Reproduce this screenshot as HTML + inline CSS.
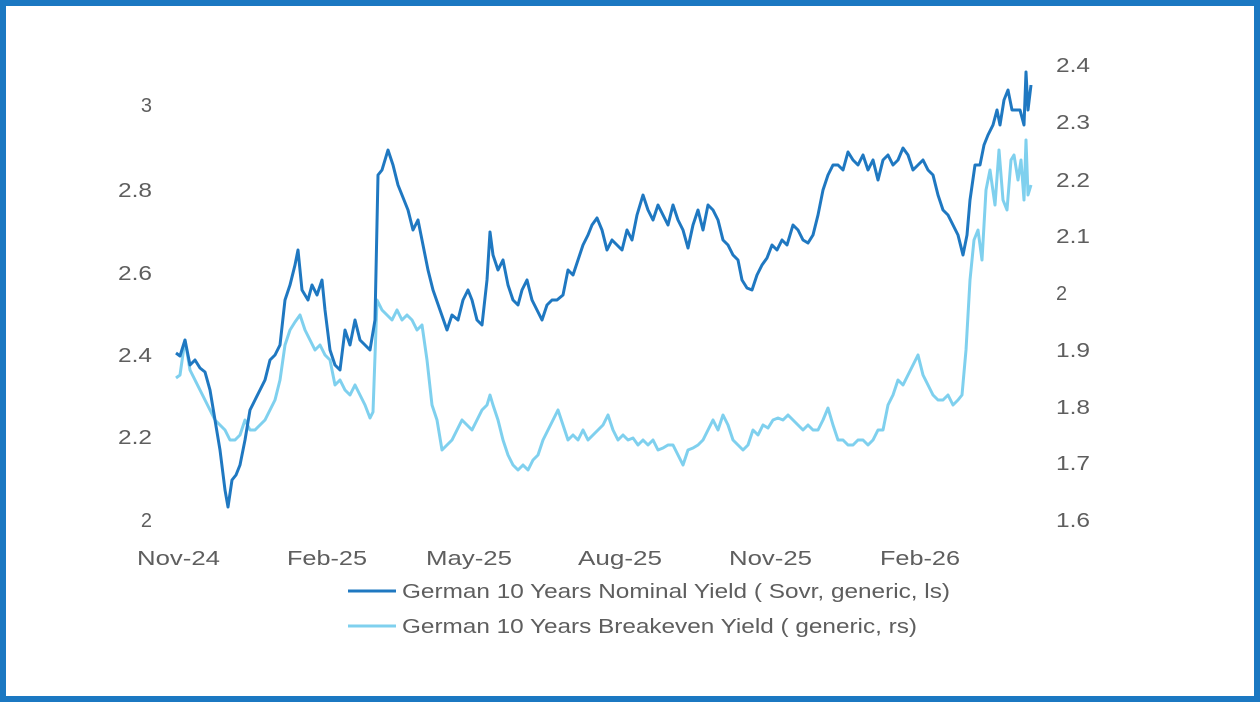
<!DOCTYPE html>
<html><head><meta charset="utf-8"><style>
html,body{margin:0;padding:0;}
body{width:1260px;height:702px;overflow:hidden;background:#fff;}
.f{position:absolute;left:0;top:0;width:1248px;height:690px;border:6px solid #1b78c2;}
text{font-family:"Liberation Sans",sans-serif;font-size:20px;fill:#5e5e5e;}
</style></head><body>
<div class="f"></div>
<svg width="1260" height="702" style="position:absolute;left:0;top:0">
<g text-anchor="end">
<text x="152" y="112">3</text><text x="152" y="197" textLength="34" lengthAdjust="spacingAndGlyphs">2.8</text><text x="152" y="280" textLength="34" lengthAdjust="spacingAndGlyphs">2.6</text>
<text x="152" y="362" textLength="34" lengthAdjust="spacingAndGlyphs">2.4</text><text x="152" y="444" textLength="34" lengthAdjust="spacingAndGlyphs">2.2</text><text x="152" y="527">2</text>
</g>
<g text-anchor="start" lengthAdjust="spacingAndGlyphs">
<text x="1056" y="72" textLength="34" lengthAdjust="spacingAndGlyphs">2.4</text><text x="1056" y="129" textLength="34" lengthAdjust="spacingAndGlyphs">2.3</text><text x="1056" y="187" textLength="34" lengthAdjust="spacingAndGlyphs">2.2</text>
<text x="1056" y="243" textLength="34" lengthAdjust="spacingAndGlyphs">2.1</text><text x="1056" y="300">2</text><text x="1056" y="357" textLength="34" lengthAdjust="spacingAndGlyphs">1.9</text>
<text x="1056" y="414" textLength="34" lengthAdjust="spacingAndGlyphs">1.8</text><text x="1056" y="470" textLength="34" lengthAdjust="spacingAndGlyphs">1.7</text><text x="1056" y="527" textLength="34" lengthAdjust="spacingAndGlyphs">1.6</text>
</g>
<g>
<text x="137" y="565" textLength="83" lengthAdjust="spacingAndGlyphs">Nov-24</text><text x="287" y="565" textLength="80" lengthAdjust="spacingAndGlyphs">Feb-25</text><text x="426" y="565" textLength="86" lengthAdjust="spacingAndGlyphs">May-25</text>
<text x="578" y="565" textLength="84" lengthAdjust="spacingAndGlyphs">Aug-25</text><text x="729" y="565" textLength="83" lengthAdjust="spacingAndGlyphs">Nov-25</text><text x="880" y="565" textLength="80" lengthAdjust="spacingAndGlyphs">Feb-26</text>
</g>
<polyline fill="none" stroke="#7fd0ee" stroke-width="3" stroke-linejoin="round" points="176,378 180,375 185,340 190,370 195,380 200,390 205,400 210,410 215,420 220,425 225,430 230,440 235,440 240,435 245,420 250,430 255,430 260,425 265,420 270,410 275,400 280,380 285,345 290,330 295,322 300,315 305,330 310,340 315,350 320,345 325,355 330,360 335,385 340,380 345,390 350,395 355,385 360,395 365,405 370,418 373,412 377,300 382,310 387,315 392,320 397,310 402,320 407,315 412,320 417,330 422,325 427,360 432,405 437,420 442,450 447,445 452,440 457,430 462,420 467,425 472,430 477,420 482,410 487,405 490,395 493,405 498,420 503,440 508,455 513,465 518,470 523,465 528,470 533,460 538,455 543,440 548,430 553,420 558,410 563,425 568,440 573,435 578,440 583,430 588,440 593,435 598,430 603,425 608,415 613,430 618,440 623,435 628,440 633,438 638,445 643,440 648,445 653,440 658,450 663,448 668,445 673,445 678,455 683,465 688,450 693,448 698,445 703,440 708,430 713,420 718,430 723,415 728,425 733,440 738,445 743,450 748,445 753,430 758,435 763,425 768,428 773,420 778,418 783,420 788,415 793,420 798,425 803,430 808,425 813,430 818,430 823,420 828,408 833,425 838,440 843,440 848,445 853,445 858,440 863,440 868,445 873,440 878,430 883,430 888,405 893,395 898,380 903,385 908,375 913,365 918,355 923,375 928,385 933,395 938,400 943,400 948,395 953,405 958,400 962,395 966,350 970,280 974,240 978,230 982,260 986,190 990,170 995,205 999,150 1003,200 1007,210 1011,160 1014,155 1018,180 1021,160 1024,200 1026,140 1028,195 1031,185"/>
<polyline fill="none" stroke="#1f78c1" stroke-width="3" stroke-linejoin="round" points="176,353 180,356 185,340 190,365 195,360 200,368 205,372 210,390 215,420 220,450 225,490 228,507 232,480 236,475 240,465 245,440 250,410 255,400 260,390 265,380 270,360 275,355 280,345 285,300 290,285 295,265 298,250 302,290 308,300 312,285 317,295 322,280 325,310 330,350 335,365 340,370 345,330 350,345 355,320 360,340 365,345 370,350 375,320 378,175 382,170 388,150 393,165 398,185 402,195 408,210 413,230 418,220 422,240 428,270 433,290 440,310 447,330 452,315 458,320 463,300 468,290 472,300 477,320 482,325 487,280 490,232 493,255 498,270 503,260 508,285 513,300 518,305 522,290 527,280 532,300 537,310 542,320 547,305 552,300 557,300 563,295 568,270 573,275 578,260 583,245 588,235 592,225 597,218 602,230 607,250 612,240 617,245 622,250 627,230 632,240 637,215 643,195 648,210 653,220 658,205 663,215 668,225 673,205 678,220 683,230 688,248 693,225 698,210 703,230 708,205 713,210 718,220 723,240 728,245 733,255 738,260 742,280 747,288 752,290 757,275 762,265 767,258 772,245 777,250 782,240 787,245 793,225 798,230 803,240 808,243 813,235 818,215 823,190 828,175 833,165 838,165 843,170 848,152 853,160 858,165 863,155 868,170 873,160 878,180 883,160 888,155 893,165 898,160 903,148 908,155 913,170 918,165 923,160 928,170 933,175 938,195 943,210 948,215 953,225 958,235 963,255 967,235 970,200 975,165 980,165 984,145 988,135 993,125 997,110 1000,125 1004,100 1008,90 1012,110 1016,110 1020,110 1024,125 1026,72 1028,110 1031,85"/>
<line x1="348" y1="591" x2="396" y2="591" stroke="#1f78c1" stroke-width="3"/>
<text x="402" y="598" textLength="548" lengthAdjust="spacingAndGlyphs">German 10 Years Nominal Yield ( Sovr, generic, ls)</text>
<line x1="348" y1="626" x2="396" y2="626" stroke="#7fd0ee" stroke-width="3"/>
<text x="402" y="633" textLength="515" lengthAdjust="spacingAndGlyphs">German 10 Years Breakeven Yield ( generic, rs)</text>
</svg>
</body></html>
